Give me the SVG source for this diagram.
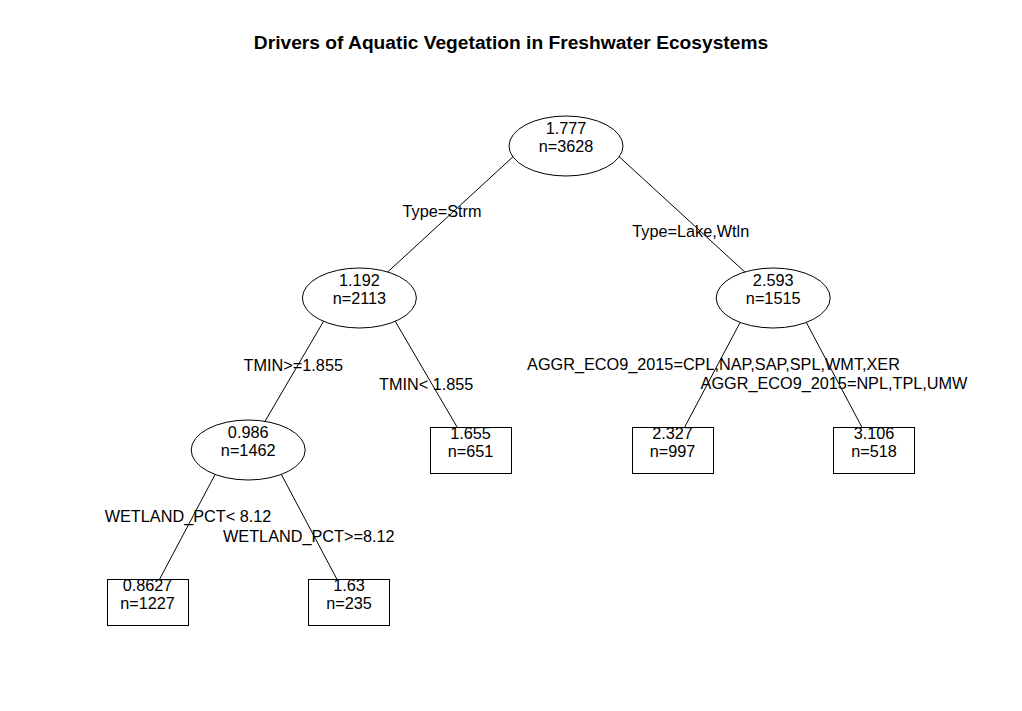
<svg xmlns="http://www.w3.org/2000/svg" width="1022" height="711" viewBox="0 0 1022 711">
<style>
.t{font-family:"Liberation Sans",Arial,sans-serif;font-size:16.25px;fill:#000;text-anchor:middle}
.title{font-family:"Liberation Sans",Arial,sans-serif;font-size:19.2px;font-weight:bold;fill:#000;text-anchor:middle}
.e{fill:#fff;stroke:#000;stroke-width:1}
.b{fill:#fff;stroke:#000;stroke-width:1}
.c line{stroke:#000;stroke-width:1}
</style>
<rect width="1022" height="711" fill="#fff"/>
<text class="title" x="511" y="48.5">Drivers of Aquatic Vegetation in Freshwater Ecosystems</text>
<g id="connectors" class="c">
<line x1="524.7" y1="146" x2="359.4" y2="298"/>
<line x1="607.5" y1="146" x2="773.2" y2="298"/>
<line x1="337.2" y1="298" x2="248.2" y2="450"/>
<line x1="381.6" y1="298" x2="470.5" y2="450"/>
<line x1="753.1" y1="298" x2="672.5" y2="450"/>
<line x1="793.4" y1="298" x2="874" y2="450"/>
<line x1="228.1" y1="450" x2="147.5" y2="602"/>
<line x1="268.4" y1="450" x2="349" y2="602"/>
</g>
<g id="n1"><ellipse class="e" cx="566" cy="146" rx="57" ry="30"/><text class="t" x="566" y="133.5">1.777</text><text class="t" x="566" y="152">n=3628</text></g>
<g id="n2"><ellipse class="e" cx="359.4" cy="298" rx="57" ry="30"/><text class="t" x="359.4" y="285.5">1.192</text><text class="t" x="359.4" y="304">n=2113</text></g>
<g id="n3"><ellipse class="e" cx="773.2" cy="298" rx="57" ry="30"/><text class="t" x="773.2" y="285.5">2.593</text><text class="t" x="773.2" y="304">n=1515</text></g>
<g id="n4"><ellipse class="e" cx="248.2" cy="450" rx="57" ry="30"/><text class="t" x="248.2" y="437.5">0.986</text><text class="t" x="248.2" y="456">n=1462</text></g>
<g id="n5"><rect class="b" x="430.5" y="427.5" width="81" height="46"/><text class="t" x="470.5" y="438.5">1.655</text><text class="t" x="470.5" y="457">n=651</text></g>
<g id="n6"><rect class="b" x="632.5" y="427.5" width="81" height="46"/><text class="t" x="672.5" y="438.5">2.327</text><text class="t" x="672.5" y="457">n=997</text></g>
<g id="n7"><rect class="b" x="833.5" y="427.5" width="81" height="46"/><text class="t" x="874" y="438.5">3.106</text><text class="t" x="874" y="457">n=518</text></g>
<g id="n8"><rect class="b" x="107.5" y="579.5" width="81" height="46"/><text class="t" x="147.5" y="590.5">0.8627</text><text class="t" x="147.5" y="609">n=1227</text></g>
<g id="n9"><rect class="b" x="308.5" y="579.5" width="81" height="46"/><text class="t" x="349" y="590.5">1.63</text><text class="t" x="349" y="609">n=235</text></g>
<g id="labels">
<text class="t" x="442" y="217">Type=Strm</text>
<text class="t" x="690.8" y="237">Type=Lake,Wtln</text>
<text class="t" x="293.3" y="370.5">TMIN&gt;=1.855</text>
<text class="t" x="426.2" y="390">TMIN&lt; 1.855</text>
<text class="t" x="713.5" y="369.5">AGGR_ECO9_2015=CPL,NAP,SAP,SPL,WMT,XER</text>
<text class="t" x="834" y="389">AGGR_ECO9_2015=NPL,TPL,UMW</text>
<text class="t" x="188" y="522">WETLAND_PCT&lt; 8.12</text>
<text class="t" x="308.8" y="541.5">WETLAND_PCT&gt;=8.12</text>
</g>
</svg>
